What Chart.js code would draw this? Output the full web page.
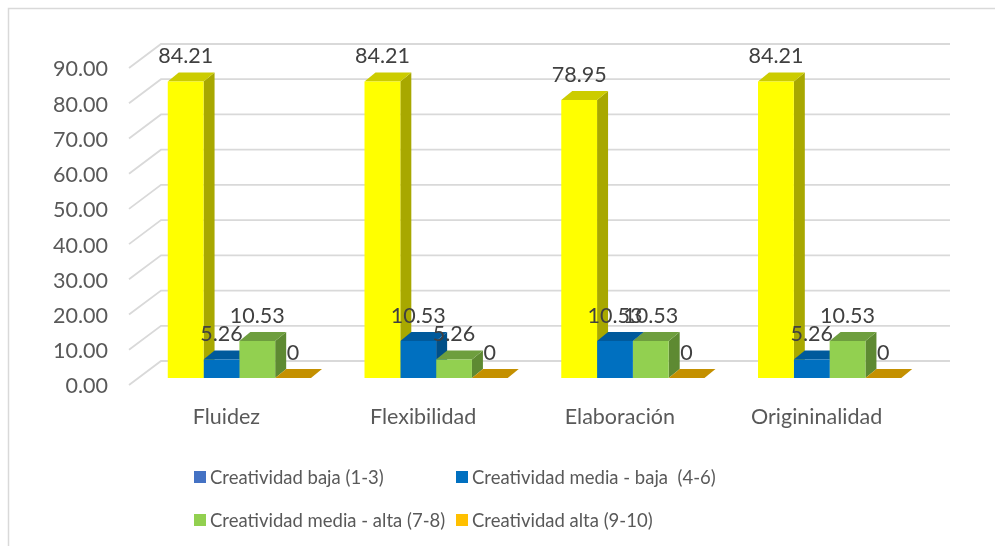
<!DOCTYPE html>
<html>
<head>
<meta charset="utf-8">
<script src="https://cdn.jsdelivr.net/npm/chart.js@4.4.0/dist/chart.umd.min.js"></script>
<style>
    body { margin: 0; background: #fff; }
    #wrap { position: relative; width: 995px; height: 546px; }
    #legend { position: absolute; left: 0; top: 0; }
    .item { position: absolute; display: flex; align-items: center; font-family: Lato, sans-serif; font-size: 18.5px; color: #595959; white-space: pre; }
    .box { width: 12px; height: 12px; margin-right: 4px; flex-shrink: 0; }
</style>
</head>
<body>
<div id="wrap">
    <canvas id="chart" width="995" height="546"></canvas>
    <div id="legend"></div>
</div>
<script>
const categories = ['Fluidez', 'Flexibilidad', 'Elaboración', 'Origininalidad'];
const seriesNames = ['Creatividad baja (1-3)', 'Creatividad media - baja  (4-6)', 'Creatividad media - alta (7-8)', 'Creatividad alta (9-10)'];
const baja = [84.21, 84.21, 78.95, 84.21];
const mediaBaja = [5.26, 10.53, 10.53, 5.26];
const mediaAlta = [10.53, 5.26, 10.53, 10.53];
const alta = [0, 0, 0, 0];

const barColors = ['#FFFF00', '#0070C0', '#92D050', '#FFC000'];
const topColors = ['#CCCC00', '#005A9C', '#6E9E3E', '#C49000'];
const sideColors = ['#A8A800', '#004F88', '#5E8A32', '#A87C00'];
const legendColors = ['#4472C4', '#0070C0', '#92D050', '#FFC000'];

// depth of the bars and of the walls
const dx = 11, dy = 9;
const gridFront = {x: -12, y: 7};
const gridBack = {x: 20, y: -17};

const fake3d = {
    id: 'fake3d',
    beforeDraw(chart) {
        const ctx = chart.ctx;
        const area = chart.chartArea;
        const yScale = chart.scales.y;
        const xScale = chart.scales.x;
        ctx.save();
        // frame
        ctx.strokeStyle = '#D9D9D9';
        ctx.lineWidth = 1.5;
        ctx.strokeRect(8.5, 8.5, 1100, 1100);

        // gridlines on the floor and back wall
        ctx.font = '21.5px Lato';
        ctx.fillStyle = '#595959';
        ctx.textAlign = 'right';
        ctx.textBaseline = 'middle';
        yScale.ticks.forEach(t => {
            const py = yScale.getPixelForValue(t.value);
            ctx.beginPath();
            ctx.strokeStyle = '#D9D9D9';
            ctx.lineWidth = 1.8;
            ctx.moveTo(area.left + gridFront.x, py + gridFront.y);
            ctx.lineTo(area.left + gridBack.x, py + gridBack.y);
            ctx.lineTo(area.right + 22, py + gridBack.y);
            ctx.stroke();
            ctx.fillText(t.value.toFixed(2), 108, py + 8.5);
        });

        // category labels
        ctx.textAlign = 'center';
        ctx.font = '21.5px Lato';
        categories.forEach((c, i) => {
            ctx.fillText(c, xScale.getPixelForValue(i) - 13, 417);
        });
        ctx.restore();
    },
    beforeDatasetsDraw(chart) {
        const ctx = chart.ctx;
        ctx.save();
        chart.data.datasets.forEach((ds, di) => {
            const meta = chart.getDatasetMeta(di);
            meta.data.forEach(bar => {
                const p = bar.getProps(['x', 'y', 'base', 'width'], true);
                const l = p.x - p.width / 2, r = p.x + p.width / 2;
                // side
                if (p.base - p.y > 0.5) {
                    ctx.fillStyle = sideColors[di];
                    ctx.beginPath();
                    ctx.moveTo(r, p.y);
                    ctx.lineTo(r + dx, p.y - dy);
                    ctx.lineTo(r + dx, p.base - dy);
                    ctx.lineTo(r, p.base);
                    ctx.closePath();
                    ctx.fill();
                }
                // top
                ctx.fillStyle = topColors[di];
                ctx.beginPath();
                ctx.moveTo(l, p.y);
                ctx.lineTo(l + dx, p.y - dy);
                ctx.lineTo(r + dx, p.y - dy);
                ctx.lineTo(r, p.y);
                ctx.closePath();
                ctx.fill();
            });
        });
        ctx.restore();
    },
    afterDatasetsDraw(chart) {
        const ctx = chart.ctx;
        ctx.save();
        ctx.font = '21.5px Lato';
        ctx.fillStyle = '#404040';
        ctx.textAlign = 'center';
        ctx.textBaseline = 'middle';
        chart.data.datasets.forEach((ds, di) => {
            const meta = chart.getDatasetMeta(di);
            meta.data.forEach((bar, i) => {
                const p = bar.getProps(['x', 'y'], true);
                ctx.fillText(String(ds.data[i]), p.x, p.y - 25);
            });
        });
        ctx.restore();
    }
};

const seriesData = [baja, mediaBaja, mediaAlta, alta];

const chart = new Chart(document.getElementById('chart'), {
    type: 'bar',
    data: {
        labels: categories,
        datasets: seriesData.map((d, i) => ({
            label: seriesNames[i],
            data: d,
            backgroundColor: barColors[i],
            borderWidth: 0,
            barPercentage: 1,
            categoryPercentage: 0.728
        }))
    },
    options: {
        responsive: false,
        animation: false,
        layout: {
            padding: {left: 141, top: 61, right: 67, bottom: 168}
        },
        scales: {
            x: {display: false},
            y: {display: false, min: 0, max: 90, ticks: {stepSize: 10}}
        },
        plugins: {
            legend: {display: false},
            tooltip: {enabled: false}
        }
    },
    plugins: [fake3d]
});

// legend, two columns like the original
const legendPos = [[194, 477], [456, 477], [194, 520], [456, 520]];
const legendEl = document.getElementById('legend');
seriesNames.forEach((name, i) => {
    const item = document.createElement('div');
    item.className = 'item';
    item.style.left = legendPos[i][0] + 'px';
    item.style.top = (legendPos[i][1] - 13) + 'px';
    item.style.height = '26px';
    const box = document.createElement('span');
    box.className = 'box';
    box.style.background = legendColors[i];
    const text = document.createElement('span');
    text.textContent = name;
    item.appendChild(box);
    item.appendChild(text);
    legendEl.appendChild(item);
});
</script>
</body>
</html>
